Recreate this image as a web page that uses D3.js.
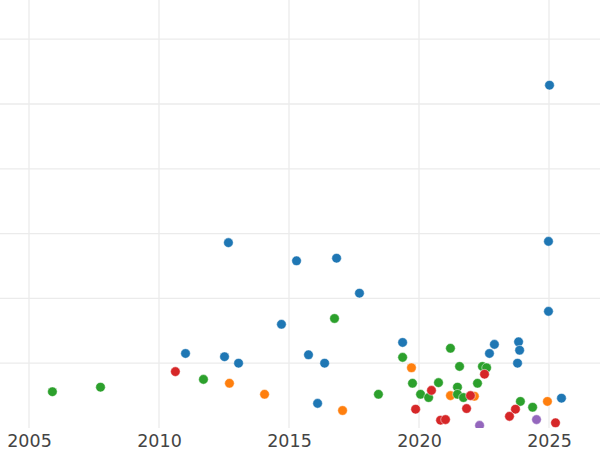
<!DOCTYPE html>
<html>
<head>
<meta charset="utf-8">
<script src="https://cdn.jsdelivr.net/npm/d3@7"></script>
<style>
  html, body { margin: 0; padding: 0; background: #fff; }
  svg { display: block; }
</style>
</head>
<body>
<svg id="chart" width="600" height="450"></svg>
<script>
// ---- data (year, value) per group ----
const blueX   = [2025.02, 2012.67, 2015.29, 2016.83, 2017.71, 2014.71, 2024.98, 2024.98, 2011.02, 2012.52, 2013.06, 2015.75, 2016.37, 2016.10, 2019.37, 2022.90, 2022.71, 2023.83, 2023.87, 2023.79, 2025.48];
const blueY   = [5.29, 2.86, 2.58, 2.62, 2.08, 1.60, 2.88, 1.80, 1.15, 1.10, 1.00, 1.13, 1.00, 0.38, 1.32, 1.29, 1.15, 1.33, 1.20, 1.00, 0.46];
const orangeX = [2019.71, 2012.71, 2014.06, 2017.06, 2021.21, 2022.13, 2024.94];
const orangeY = [0.93, 0.69, 0.52, 0.27, 0.50, 0.49, 0.41];
const greenX  = [2005.90, 2007.75, 2011.71, 2016.75, 2018.44, 2019.37, 2019.75, 2020.06, 2020.37, 2020.75, 2021.21, 2021.56, 2021.48, 2021.48, 2021.71, 2022.25, 2022.44, 2022.60, 2023.90, 2024.37];
const greenY  = [0.56, 0.63, 0.75, 1.69, 0.52, 1.09, 0.69, 0.52, 0.47, 0.70, 1.23, 0.95, 0.63, 0.52, 0.47, 0.69, 0.95, 0.93, 0.41, 0.32];
const redX    = [2010.63, 2020.48, 2019.87, 2020.83, 2021.02, 2021.98, 2021.83, 2022.52, 2023.71, 2023.48, 2025.25];
const redY    = [0.87, 0.58, 0.29, 0.12, 0.13, 0.50, 0.30, 0.83, 0.29, 0.18, 0.08];
const purpleX = [2022.33, 2024.52];
const purpleY = [0.04, 0.13];

const groupNames  = ["A", "B", "C", "D", "E"];
const groupColors = ["#1f77b4", "#ff7f0e", "#2ca02c", "#d62728", "#9467bd"];
const xTicks = [2005, 2010, 2015, 2020, 2025];
const yGrid  = [1, 2, 3, 4, 5, 6];

// ---- build ----
const groups = [
  {name: groupNames[0], color: groupColors[0], xs: blueX,   ys: blueY},
  {name: groupNames[1], color: groupColors[1], xs: orangeX, ys: orangeY},
  {name: groupNames[2], color: groupColors[2], xs: greenX,  ys: greenY},
  {name: groupNames[3], color: groupColors[3], xs: redX,    ys: redY},
  {name: groupNames[4], color: groupColors[4], xs: purpleX, ys: purpleY}
];

const W = 600, plotBottom = 428;
const x = d3.scaleLinear().domain([2005 - 29/26, 2005 + 571/26]).range([0, W]);
const y = d3.scaleLinear().domain([0, plotBottom/64.8]).range([plotBottom, 0]);

const svg = d3.select("#chart");

svg.append("defs").append("clipPath").attr("id", "plotclip")
  .append("rect").attr("x", 0).attr("y", 0).attr("width", W).attr("height", plotBottom);

const grid = svg.append("g");
grid.selectAll("line.h").data(yGrid).join("line")
  .attr("class", "h")
  .attr("x1", 0).attr("x2", W)
  .attr("y1", d => y(d)).attr("y2", d => y(d))
  .attr("stroke", "#ebebeb").attr("stroke-width", 1.3);

grid.selectAll("line.v").data(xTicks).join("line")
  .attr("class", "v")
  .attr("x1", d => x(d)).attr("x2", d => x(d))
  .attr("y1", 0).attr("y2", plotBottom)
  .attr("stroke", "#ebebeb").attr("stroke-width", 1.3);

// x axis labels via d3 axis
const xAxis = d3.axisBottom(x).tickValues(xTicks).tickFormat(d3.format("d")).tickSize(0).tickPadding(0);
const ax = svg.append("g").attr("transform", `translate(0,${plotBottom})`).call(xAxis);
ax.select(".domain").remove();
ax.selectAll("text")
  .attr("font-family", "DejaVu Sans, sans-serif")
  .attr("font-size", 17.5)
  .attr("fill", "#444444")
  .attr("dy", null)
  .attr("y", 18.5);

const dots = svg.append("g").attr("clip-path", "url(#plotclip)");
groups.forEach(g => {
  const pts = g.xs.map((v, i) => ({x: v, y: g.ys[i]}));
  dots.append("g").selectAll("circle").data(pts).join("circle")
    .attr("cx", d => x(d.x))
    .attr("cy", d => y(d.y))
    .attr("r", 4.8)
    .attr("fill", g.color)
    .attr("stroke", "#fff")
    .attr("stroke-width", 0.5);
});
</script>
</body>
</html>
